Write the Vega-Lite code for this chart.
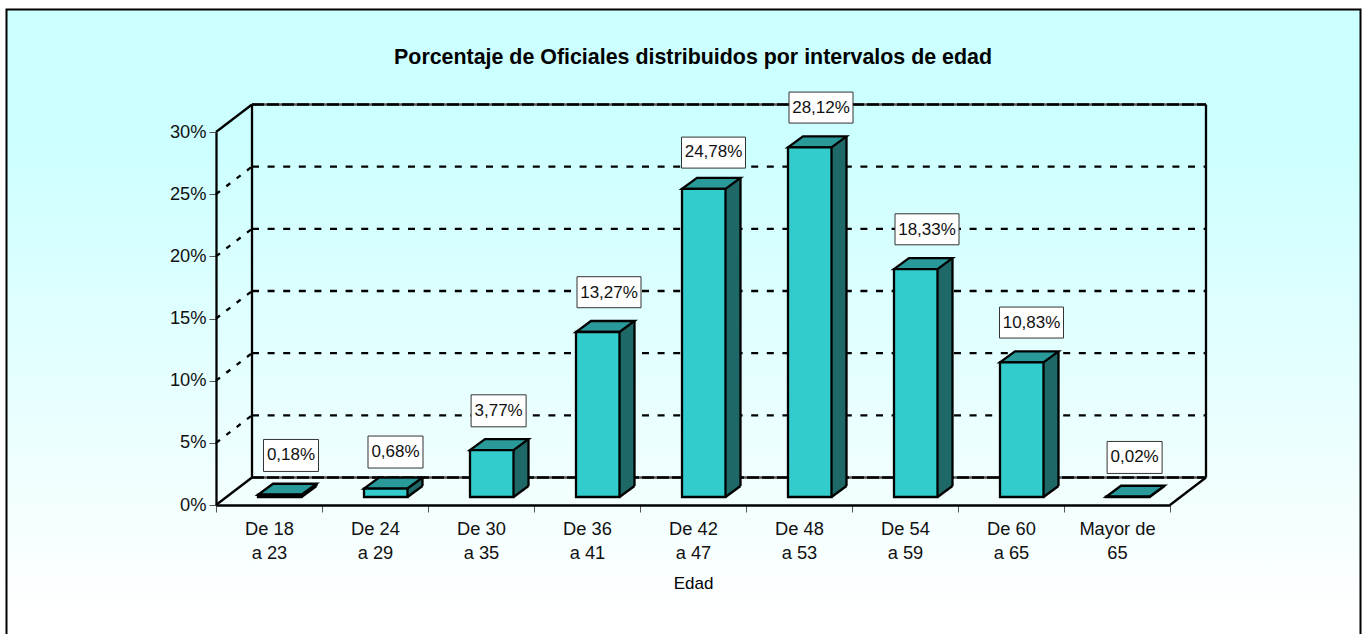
{"$schema":"https://vega.github.io/schema/vega-lite/v6.json","width":954,"height":373,"autosize":{"type":"none"},"padding":{"left":216,"top":132,"right":197,"bottom":129},"background":"white","config":{"view":{"stroke":null},"font":"Liberation Sans"},"title":{"text":"Porcentaje de Oficiales distribuidos por intervalos de edad","font":"Liberation Sans","fontSize":21.4,"fontWeight":"bold","color":"black","anchor":"middle","frame":"group","offset":-60},"datasets":{"bars":[{"edad":"De 18\na 23","pct":0.18,"label":"0,18%"},{"edad":"De 24\na 29","pct":0.68,"label":"0,68%"},{"edad":"De 30\na 35","pct":3.77,"label":"3,77%"},{"edad":"De 36\na 41","pct":13.27,"label":"13,27%"},{"edad":"De 42\na 47","pct":24.78,"label":"24,78%"},{"edad":"De 48\na 53","pct":28.12,"label":"28,12%"},{"edad":"De 54\na 59","pct":18.33,"label":"18,33%"},{"edad":"De 60\na 65","pct":10.83,"label":"10,83%"},{"edad":"Mayor de\n65","pct":0.02,"label":"0,02%"}],"grid":[{"v":5},{"v":10},{"v":15},{"v":20},{"v":25}],"edge":[{"v":0},{"v":30}]},"encoding":{"x":{"field":"edad","type":"nominal","sort":null,"title":"Edad","scale":{"domain":["De 18\na 23","De 24\na 29","De 30\na 35","De 36\na 41","De 42\na 47","De 48\na 53","De 54\na 59","De 60\na 65","Mayor de\n65"],"paddingInner":0,"paddingOuter":0},"axis":{"title":"Edad","titleFont":"Liberation Sans","titleFontSize":17,"titleFontWeight":"normal","titleColor":"black","titlePadding":14,"labelAngle":0,"labelFont":"Liberation Sans","labelFontSize":18.3,"labelColor":"#111111","labelPadding":8,"labelLineHeight":24,"labelExpr":"split(datum.label,'\\n')","tickBand":"extent","tickSize":7,"tickColor":"#555555","domainColor":"black","domainWidth":2.3,"zindex":1}},"y":{"field":"pct","type":"quantitative","title":null,"scale":{"domain":[0,30],"nice":false},"axis":{"title":null,"values":[0,5,10,15,20,25,30],"labelExpr":"datum.value+'%'","labelFont":"Liberation Sans","labelFontSize":18.3,"labelColor":"#111111","labelPadding":3,"tickSize":7,"tickColor":"#555555","domainColor":"black","domainWidth":2.3,"grid":false,"zindex":1}}},"layer":[{"data":{"values":[{}]},"mark":{"type":"rect","fill":{"gradient":"linear","x1":0,"y1":0,"x2":0,"y2":1,"stops":[{"offset":0,"color":"#CCFFFF"},{"offset":0.2,"color":"#CCFFFF"},{"offset":0.95,"color":"#FFFFFF"},{"offset":1,"color":"#FFFFFF"}]},"stroke":"black","strokeWidth":2},"encoding":{"x":{"value":-209.5},"x2":{"value":1144.5},"y":{"value":-122.5},"y2":{"value":515}}},{"data":{"name":"edge"},"mark":{"type":"rule","stroke":"#555555","strokeWidth":2.3,"xOffset":36,"x2Offset":36,"yOffset":-27.5},"encoding":{"x":{"value":0},"x2":{"value":954},"y":{"field":"v","type":"quantitative"}}},{"data":{"name":"edge"},"mark":{"type":"rule","stroke":"black","strokeWidth":2.3,"strokeDash":[12,3],"xOffset":36,"x2Offset":36,"yOffset":-27.5},"encoding":{"x":{"value":0},"x2":{"value":954},"y":{"field":"v","type":"quantitative"}}},{"data":{"name":"grid"},"mark":{"type":"rule","stroke":"black","strokeWidth":2.3,"strokeDash":[7,8.6],"xOffset":36,"x2Offset":36,"yOffset":-27.5},"encoding":{"x":{"value":0},"x2":{"value":954},"y":{"field":"v","type":"quantitative"}}},{"data":{"name":"grid"},"mark":{"type":"point","shape":"M0,0L36,-27.5","size":4,"filled":false,"stroke":"black","strokeWidth":2.3,"strokeDash":[5,8],"opacity":1},"encoding":{"x":{"datum":"De 18\na 23","type":"nominal","bandPosition":0},"y":{"field":"v","type":"quantitative"}}},{"data":{"name":"edge"},"mark":{"type":"point","shape":"M0,0L36,-27.5","size":4,"filled":false,"stroke":"black","strokeWidth":2.3,"opacity":1},"encoding":{"x":{"datum":"De 18\na 23","type":"nominal","bandPosition":0},"y":{"field":"v","type":"quantitative"}}},{"data":{"values":[{"v":0}]},"mark":{"type":"point","shape":"M0,0L36,-27.5","size":4,"filled":false,"stroke":"black","strokeWidth":2.3,"opacity":1},"encoding":{"x":{"datum":"Mayor de\n65","type":"nominal","bandPosition":1},"y":{"field":"v","type":"quantitative"}}},{"data":{"values":[{"a":0,"b":30}]},"mark":{"type":"rule","stroke":"black","strokeWidth":2.3,"xOffset":36,"yOffset":-27.5,"y2Offset":-27.5},"encoding":{"x":{"datum":"De 18\na 23","type":"nominal","bandPosition":0},"y":{"field":"a","type":"quantitative"},"y2":{"field":"b"}}},{"data":{"values":[{"a":0,"b":30}]},"mark":{"type":"rule","stroke":"black","strokeWidth":2.3,"xOffset":36,"yOffset":-27.5,"y2Offset":-27.5},"encoding":{"x":{"datum":"Mayor de\n65","type":"nominal","bandPosition":1},"y":{"field":"a","type":"quantitative"},"y2":{"field":"b"}}},{"data":{"name":"bars"},"mark":{"type":"bar","fill":"#1E6868","width":15,"xOffset":40,"x2Offset":40,"yOffset":-19,"y2Offset":-19}},{"data":{"name":"bars"},"mark":{"type":"point","shape":"M32.5,-8L47.5,-19L32.5,-19Z","size":4,"filled":true,"fill":"#1E6868","strokeWidth":0,"opacity":1},"encoding":{"y":{"datum":0,"type":"quantitative"}}},{"data":{"name":"bars"},"mark":{"type":"point","shape":"M32.5,-8L47.5,-19","size":4,"filled":false,"stroke":"black","strokeWidth":2.3,"opacity":1},"encoding":{"y":{"datum":0,"type":"quantitative"}}},{"data":{"name":"bars"},"mark":{"type":"rule","stroke":"black","strokeWidth":2.3,"xOffset":47.5,"yOffset":-19,"y2Offset":-19},"encoding":{"y2":{"datum":0}}},{"data":{"name":"bars"},"mark":{"type":"point","shape":"M-11,-8L32.5,-8L47.5,-19L4,-19Z","size":4,"filled":true,"fill":"#299999","stroke":"black","strokeWidth":2.3,"opacity":1}},{"data":{"name":"bars"},"mark":{"type":"bar","fill":"#33CCCC","stroke":"black","strokeWidth":2.3,"width":43.5,"xOffset":10.75,"x2Offset":10.75,"yOffset":-8,"y2Offset":-8}},{"data":{"name":"bars"},"transform":[{"filter":"datum.pct>=10"}],"mark":{"type":"point","shape":"M-32,-15.5H32V15.5H-32Z","size":4,"filled":true,"fill":"white","stroke":"#333333","strokeWidth":1,"opacity":1,"xOffset":{"expr":"datum.pct==28.12||datum.pct==18.33||datum.pct==13.27?22:20.5"},"yOffset":{"expr":"datum.pct==24.78?-44.3:-47.8"}}},{"data":{"name":"bars"},"transform":[{"filter":"datum.pct<10"}],"mark":{"type":"point","shape":"M-27.5,-16H27.5V16H-27.5Z","size":4,"filled":true,"fill":"white","stroke":"#333333","strokeWidth":1,"opacity":1,"xOffset":{"expr":"datum.pct==3.77||datum.pct==0.02?17.6:datum.pct==0.18?22:20.5"},"yOffset":{"expr":"datum.pct==0.68?-44.5:-47.3"}}},{"data":{"name":"bars"},"mark":{"type":"text","font":"Liberation Sans","fontSize":17,"color":"#111111","align":"center","baseline":"middle","xOffset":{"expr":"datum.pct==3.77||datum.pct==0.02?17.6:datum.pct==0.18||datum.pct==28.12||datum.pct==18.33||datum.pct==13.27?22:20.5"},"yOffset":{"expr":"datum.pct==0.68||datum.pct==24.78?-44.5:-47.5"}},"encoding":{"text":{"field":"label"}}}]}
